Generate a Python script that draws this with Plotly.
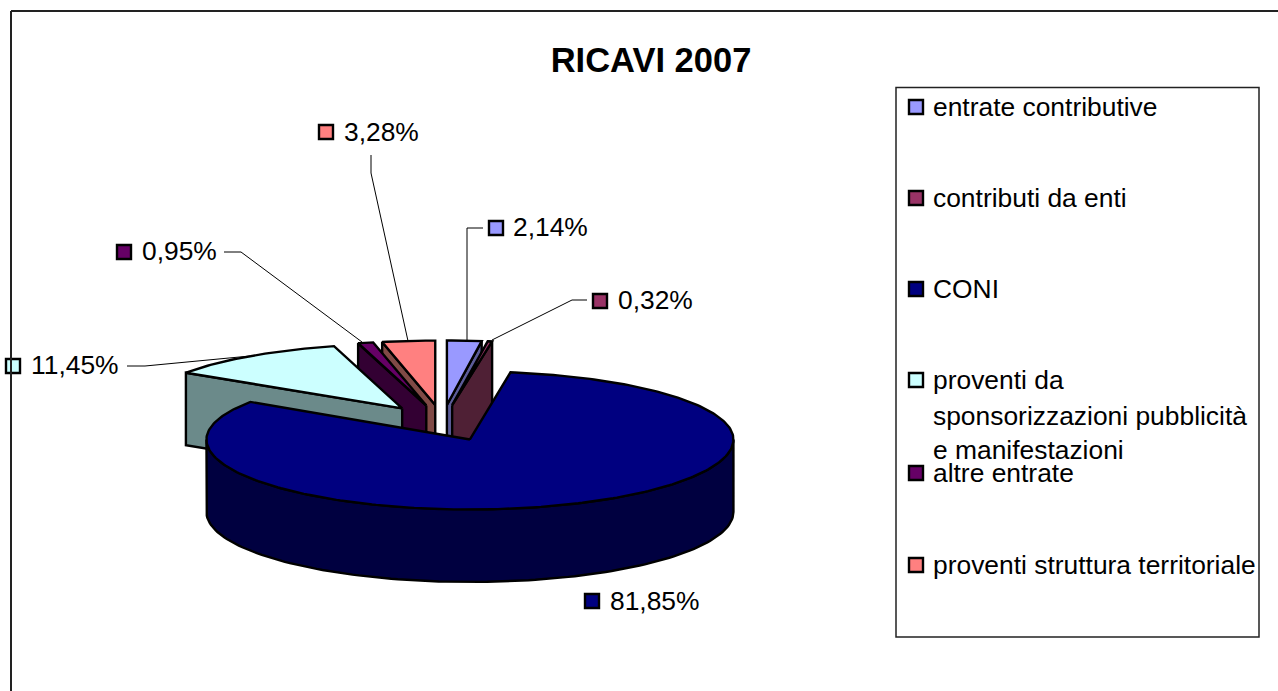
import numpy as np
import plotly.graph_objects as go

# ---- data ----
categories = ["entrate contributive", "contributi da enti", "CONI",
              "proventi da sponsorizzazioni pubblicità e manifestazioni",
              "altre entrate", "proventi struttura territoriale"]
values = [2.14, 0.32, 81.85, 11.45, 0.95, 3.28]
title_text = "RICAVI 2007"

# ---- styles ----
top_colors = ["#9999FF", "#993366", "#000080", "#CCFFFF", "#660066", "#FF8080"]
wall_colors = ["#5C5C99", "#4F2035", "#000040", "#6B8A8A", "#330033", "#804A46"]
draw_order = [5, 4, 3, 0, 1, 2]
FONT = "Liberation Sans, Arial, sans-serif"
FS = 26.4

# ---- projection of the tilted pie, in page-pixel axis units ----
CX, CY = 442.3, 423.0      # pie centre
RX_FAR, RX_NEAR = 259.5, 263.5     # far slices look slightly smaller
RY_FAR, RY_NEAR_BACK, RY_FRONT = 64.5, 68.0, 70.0
EXPLODE_X, EXPLODE_Y = 68.5, 18.0
DEPTH = 72.5

fig = go.Figure()

def poly(xs, ys, color, width=2.4):
    fig.add_trace(go.Scatter(x=list(xs), y=list(ys), mode="lines", fill="toself",
                             fillcolor=color, line=dict(color="#000000", width=width),
                             hoverinfo="skip", showlegend=False))

total = sum(values)
edges = np.cumsum([0] + values) / total * 2 * np.pi
for i in draw_order:
    a0, a1 = edges[i], edges[i + 1]
    mid = (a0 + a1) / 2
    near = np.cos(mid) < 0
    rx = RX_NEAR if near else RX_FAR
    ry_back = RY_NEAR_BACK if near else RY_FAR

    def project(cx, cy, a):
        s, c = np.sin(a), np.cos(a)
        return cx + rx * s, cy - np.where(c > 0, ry_back, RY_FRONT) * c

    cx = CX + EXPLODE_X * np.sin(mid)
    cy = CY - EXPLODE_Y * np.cos(mid)
    arc = np.linspace(a0, a1, max(8, int((a1 - a0) * 60)))
    ax, ay = project(cx, cy, arc)
    # radial cut walls
    for ang in (a0, a1):
        visible = np.sin(ang) < 0 if ang == a0 else np.sin(ang) > 0
        if visible:
            px, py = project(cx, cy, ang)
            px, py = float(px), float(py)
            poly([cx, px, px, cx, cx], [cy, py, py + DEPTH, cy + DEPTH, cy], wall_colors[i])
    # outer curved wall (front half only)
    lo, hi = max(a0, np.pi / 2), min(a1, 3 * np.pi / 2)
    if hi > lo:
        w = np.linspace(lo, hi, 120)
        wx, wy = project(cx, cy, w)
        poly(np.r_[wx, wx[::-1], wx[0]], np.r_[wy, wy[::-1] + DEPTH, wy[0]], wall_colors[i])
    # top face
    poly(np.r_[cx, ax, cx], np.r_[cy, ay, cy], top_colors[i])

# ---- leader lines ----
leaders = [
    ([483, 467, 467], [228, 228, 341]),
    ([587, 572, 492], [300, 300, 340]),
    ([371, 371, 408], [155, 173, 341]),
    ([224, 241, 362], [252, 252, 342]),
    ([127, 145, 250], [366, 366, 356]),
]
for lx, ly in leaders:
    fig.add_trace(go.Scatter(x=lx, y=ly, mode="lines", line=dict(color="#000000", width=1),
                             hoverinfo="skip", showlegend=False))

# ---- data labels ----
labels = [f"{v:.2f}%".replace(".", ",") for v in values]
label_key_x = [496, 600, 592, 13, 124, 326]
label_key_y = [228, 301, 601, 366, 252, 132]
label_text_x = [513, 618, 610, 31, 142, 344]
label_text_y = [229, 302, 603, 367, 253, 134]
KEY = dict(symbol="square", size=14, line=dict(color="#000000", width=2.4))
fig.add_trace(go.Scatter(x=label_key_x, y=label_key_y, mode="markers", hoverinfo="skip", cliponaxis=False,
                         marker=dict(color=top_colors, **KEY), showlegend=False))
fig.add_trace(go.Scatter(x=label_text_x, y=label_text_y, mode="text", text=labels, cliponaxis=False,
                         textposition="middle right", hoverinfo="skip", showlegend=False,
                         textfont=dict(family=FONT, size=FS, color="#000000")))

# ---- legend panel ----
leg_key_y = [107, 198, 289, 380, 473, 565]
leg_lines = ["entrate contributive", "contributi da enti", "CONI", "proventi da",
             "sponsorizzazioni pubblicità", "e manifestazioni", "altre entrate",
             "proventi struttura territoriale"]
leg_line_y = [109, 200, 291, 382, 418, 452, 475, 567]
fig.add_trace(go.Scatter(x=[916] * len(leg_key_y), y=leg_key_y, mode="markers", hoverinfo="skip",
                         marker=dict(color=top_colors, **KEY), showlegend=False))
fig.add_trace(go.Scatter(x=[933] * len(leg_lines), y=leg_line_y, mode="text", text=leg_lines,
                         textposition="middle right", hoverinfo="skip", showlegend=False,
                         textfont=dict(family=FONT, size=FS, color="#000000")))

fig.update_layout(
    width=1278, height=691, margin=dict(l=0, r=0, t=0, b=0),
    paper_bgcolor="#FFFFFF", plot_bgcolor="#FFFFFF", showlegend=False,
    title=dict(text=f"<b>{title_text}</b>", x=651 / 1278, y=1 - 60 / 691,
               xref="paper", yref="paper", xanchor="center", yanchor="middle",
               font=dict(family=FONT, size=34.5, color="#000000")),
    xaxis=dict(range=[0, 1278], visible=False, fixedrange=True),
    yaxis=dict(range=[691, 0], visible=False, fixedrange=True),
    shapes=[
        dict(type="rect", x0=896, x1=1259, y0=87.5, y1=637, line=dict(color="#222222", width=1.5)),
        dict(type="line", x0=11, x1=1278, y0=11, y1=11, line=dict(color="#222222", width=2)),
        dict(type="line", x0=11, x1=11, y0=11, y1=691, line=dict(color="#222222", width=2)),
    ],
)
fig.write_html("out.html", config={"displayModeBar": False},
               post_script="document.body.style.margin='0';document.body.style.overflow='hidden';")
